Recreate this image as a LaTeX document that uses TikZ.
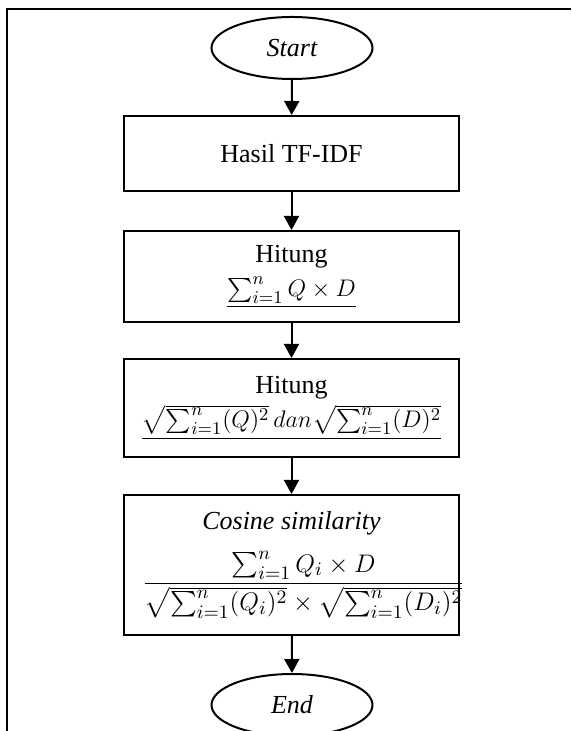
\documentclass[tikz,border=0pt]{standalone}
\usepackage{amsmath}
\usepackage{graphicx}
\usepackage{fontspec}
\setmainfont{Liberation Serif}
\usetikzlibrary{shapes.geometric,arrows.meta,positioning}

\begin{document}
\begin{tikzpicture}[x=0.5pt,y=0.5pt,
  terminal/.style={draw,ellipse,line width=1pt,minimum width=80.5pt,
                   minimum height=31pt,inner sep=0pt,
                   font=\fontsize{13}{15}\selectfont\itshape},
  process/.style={draw,rectangle,line width=1pt,minimum width=167.5pt,
                  inner sep=0pt,align=center,
                  font=\fontsize{13}{15}\selectfont},
  flow/.style={line width=1pt,-{Triangle[length=7pt,width=7.5pt]}}]
  \useasboundingbox (0,0) rectangle (571,731);
  \clip (0,0) rectangle (571,731);

  %% Frame
  \draw[line width=0.7pt] (7,0) -- (7,722) -- (571,722);

  %% Flow
  \node[terminal] (start) at (292,683) {Start};
  \node[process,minimum height=37.5pt] (tfidf) at (291.5,577.5)
    {Hasil TF-IDF};
  \node[process,minimum height=45.5pt] (dotq) at (291.5,454.5)
    {Hitung\\[2pt] $\underline{\sum_{i=1}^{n} Q \times D}$};
  \node[process,minimum height=49pt] (normq) at (291.5,323)
    {Hitung\\[2pt] $\underline{\sqrt{\sum_{i=1}^{n}(Q)^2}\,dan\sqrt{\sum_{i=1}^{n}(D)^2}}$};
  \node[process,minimum height=70pt] (cosim) at (291.5,166)
    {\textit{Cosine similarity}\\[7pt]
     \makebox[150pt][c]{\hspace{12pt}\scalebox{1.06}{$\dfrac{\sum_{i=1}^{n} Q_i \times D}
       {\sqrt{\sum_{i=1}^{n}(Q_i)^2} \times \sqrt{\sum_{i=1}^{n}(D_i)^2}}$}}};
  \node[terminal] (end) at (292,26) {End};

  \draw[flow] (start) -- (tfidf);
  \draw[flow] (tfidf) -- (dotq);
  \draw[flow] (dotq) -- (normq);
  \draw[flow] (normq) -- (cosim);
  \draw[flow] (cosim) -- (end);
\end{tikzpicture}
\end{document}
